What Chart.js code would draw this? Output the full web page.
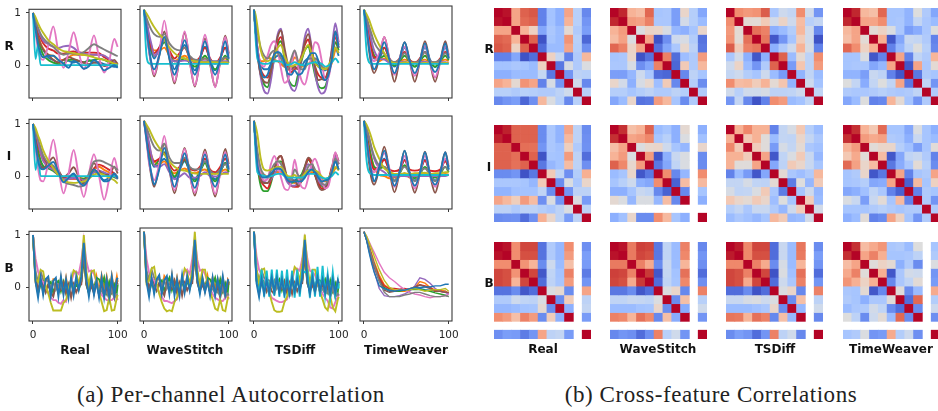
<!DOCTYPE html>
<html>
<head>
<meta charset="utf-8">
<script src="https://cdn.jsdelivr.net/npm/chart.js@4/dist/chart.umd.min.js"></script>
<style>
html, body { margin: 0; padding: 0; background: #fff; width: 938px; height: 411px; overflow: hidden; }
canvas { position: absolute; }
.lab { position: absolute; transform: translate(-50%, -50%); font-family: "DejaVu Sans"; font-weight: bold; font-size: 12px; color: #111; white-space: nowrap; }
.cap { position: absolute; transform: translate(-50%, -50%); font-family: "Liberation Serif"; font-size: 23px; letter-spacing: 0.55px; color: #222; white-space: nowrap; }
</style>
</head>
<body>
<script>
// ------------ axes and names -----------------------

const rowNames = ["R", "I", "B"];
const methodNames = ["Real", "WaveStitch", "TSDiff", "TimeWeaver"];
const lagTicks = [0, 100];
const corrTicks = [0, 1];
const lags = [0,3,6,9,12,18,24,30,36,42,48,54,60,66,72,78,84,90,96,100];
const lagsFine = [0,2,4,8,12,16,20,24,28,32,36,40,44,48,52,56,60,64,68,72,76,80,84,88,92,96,100];
const lagsB = [0,3,6,9,12,15,18,21,24,27,30,33,36,39,42,45,48,51,54,57,60,63,66,69,72,75,78,81,84,87,90,93,96,99,100];
const lineColors = ["#1f77b4","#ff7f0e","#2ca02c","#d62728","#9467bd","#8c564b","#e377c2","#7f7f7f","#bcbd22","#17becf","#1f77b4"];

// ------------ autocorrelation, row R -----------------

const acfRReal = [
[1,.75,.55,.4,.3,.15,.1,.05,.1,.08,.05,.08,.05,.1,.05,.05,.02,0,-.03,-.03],
[1,.78,.58,.42,.32,.2,.18,.1,.1,.15,.2,.2,.2,.2,.2,.2,.18,.1,.05,0],
[1,.72,.48,.32,.2,.1,.05,.02,.03,.1,.1,.08,.05,.08,.1,.12,.1,.05,.02,-.02],
[1,.82,.65,.52,.42,.32,.28,.22,.22,.25,.26,.24,.24,.24,.24,.23,.15,.1,.05,0],
[1,.85,.68,.56,.47,.4,.35,.33,.36,.37,.33,.25,.22,.2,.2,.2,.18,.12,.07,.02],
[1,.76,.55,.4,.3,.2,.1,.05,.1,.15,.12,.08,.05,.02,.05,.05,-.02,.02,.1,.02],
[1,.62,.3,.13,.1,.38,.74,.25,-.05,.25,.63,.25,-.08,.2,.57,.15,-.14,.08,.5,.35],
[1,.85,.72,.6,.52,.42,.35,.25,.2,.22,.22,.2,.25,.33,.4,.35,.3,.25,.2,.17],
[1,.92,.8,.7,.62,.48,.4,.32,.27,.25,.23,.21,.2,.18,.15,.12,.1,.07,.03,.01],
[1,.12,.38,0,0,0,0,0,0,0,0,0,0,0,0,0,0,0,0,0],
[1,.68,.4,.22,.15,.18,.18,.1,.03,-.05,.08,.03,-.07,-.02,.1,.02,-.1,-.05,0,-.05]];
const acfRWave = [
[1,.7,.4,.2,.1,.3,.45,.2,-.1,.15,.35,.1,-.12,.1,.32,.08,-.12,.1,.3,.08],
[1,.75,.5,.32,.25,.25,.3,.15,.05,.1,.15,.08,.03,.07,.1,.05,.02,.05,.1,.05],
[1,.72,.45,.25,.15,.25,.4,.18,.05,.05,.1,.02,-.05,.03,.15,0,-.1,0,.15,.02],
[1,.75,.48,.28,.2,.3,.45,.25,.1,.2,.3,.12,.05,.12,.3,.1,0,.12,.3,.18],
[1,.8,.55,.35,.15,.25,.45,.15,.05,.05,.06,.05,.05,.05,.05,.05,.05,.05,.05,.05],
[1,.62,.25,-.05,-.23,.15,.6,.1,-.36,.1,.57,.05,-.42,.05,.47,0,-.42,.05,.52,.2],
[1,.6,.22,0,-.2,.2,.8,.2,-.33,.1,.6,.05,-.4,.05,.54,.05,-.43,.05,.5,.15],
[1,.85,.72,.62,.55,.5,.55,.38,.28,.25,.3,.15,.08,.07,.1,.05,.04,.05,.12,.1],
[1,.93,.85,.76,.68,.55,.45,.3,.2,.13,.1,.07,.05,.04,.03,.03,.03,.02,.03,.02],
[1,.15,.01,0,0,0,0,0,0,0,0,0,0,0,0,0,0,0,0,0],
[1,.65,.28,0,-.1,.15,.5,.1,-.2,.1,.44,.08,-.2,.08,.42,.05,-.2,.08,.42,.1]];
const acfRTSDiff = [
[1,.6,.25,0,-.1,-.1,0,.1,.15,.15,.05,-.05,-.1,-.05,-.1,-.05,.05,.1,.1,.05,-.05,-.1,-.12,-.05,.05,.3,.15],
[1,.6,.3,.05,.05,.12,.1,.08,.05,0,-.05,-.02,0,.12,.05,-.05,-.05,0,.05,.1,.05,-.05,-.08,-.1,.02,.25,.28],
[1,.6,.25,-.2,-.38,-.43,-.2,.1,.35,.42,.1,-.25,-.38,-.41,-.2,.05,.25,.32,.1,-.2,-.4,-.45,-.42,-.2,.1,.4,.25],
[1,.6,.3,-.1,-.22,-.25,-.1,.15,.4,.5,.2,-.05,-.15,-.1,-.05,.15,.35,.45,.2,-.05,-.2,-.25,-.25,-.1,.15,.5,.3],
[1,.6,.25,-.25,-.5,-.55,-.3,.15,.55,.65,.2,-.25,-.45,-.5,-.3,.1,.5,.65,.3,-.15,-.45,-.55,-.5,-.2,.3,.75,.4],
[1,.6,.2,-.2,-.33,-.35,-.15,.2,.5,.62,.3,0,-.1,-.05,-.1,.1,.4,.55,.3,-.05,-.3,-.28,-.3,-.1,.25,.6,.35],
[1,.65,.3,0,-.05,.15,.35,.42,.25,-.1,-.35,-.3,-.05,.25,-.05,-.3,-.38,-.15,.15,.4,.35,.05,-.3,-.25,.1,.55,.4],
[1,.8,.6,.3,.15,.1,.2,.25,.2,.1,-.05,-.1,.1,.25,.05,-.1,-.1,.1,.1,.1,.05,-.05,-.1,-.05,.1,.3,.2],
[1,.9,.7,.25,.08,.05,.08,.15,.3,.35,.15,.02,-.05,-.02,0,.1,.25,.35,.2,.02,-.05,-.08,-.1,-.02,.1,.3,.2],
[1,.45,.1,.02,0,0,.03,.05,.05,.04,0,-.02,0,.03,0,-.02,-.03,0,.02,.03,.02,0,-.05,-.03,.03,.1,.02],
[1,.62,.25,-.12,-.25,-.2,0,.18,.22,.18,.02,-.18,-.2,-.12,-.2,-.18,-.05,.12,.2,.2,.05,-.2,-.3,-.2,.1,.6,.3]];
const acfRWeaver = [
[1,.72,.42,.2,.1,.1,.3,.1,-.05,.08,.3,.08,-.05,.08,.3,.08,-.06,.08,.3,.1],
[1,.8,.55,.3,.15,.05,.1,.05,.03,.05,.08,.05,.03,.05,.08,.03,.02,.05,.08,.05],
[1,.78,.5,.3,.15,.1,.15,.05,-.03,.05,.15,.03,-.05,.05,.15,.02,-.05,.05,.15,.07],
[1,.78,.5,.25,.12,.15,.3,.1,.02,.1,.22,.07,.02,.1,.22,.05,.02,.1,.22,.12],
[1,.85,.65,.42,.25,.1,.08,.03,.03,.03,.04,.02,.02,.03,.04,.02,.02,.03,.03,.02],
[1,.65,.25,-.05,-.17,.1,.5,.08,-.33,.08,.4,.05,-.33,.05,.42,.02,-.33,.05,.42,.15],
[1,.68,.35,.12,.05,.2,.5,.1,-.2,.1,.32,.03,-.22,.05,.33,.02,-.25,.05,.32,.18],
[1,.85,.7,.55,.4,.25,.18,.08,.03,.08,.2,.05,.02,.08,.22,.05,.03,.08,.2,.1],
[1,.92,.82,.68,.55,.35,.2,.05,.02,.01,.03,.02,.01,.01,.02,.01,.01,.01,.02,.01],
[1,.25,.03,0,0,0,0,0,0,0,0,0,0,0,0,0,0,0,0,0],
[1,.68,.3,.02,-.1,.12,.4,.08,-.17,.08,.4,.05,-.17,.05,.38,.02,-.15,.05,.38,.1]];

// ------------ autocorrelation, row I -----------------

const acfIReal = [
[1,.72,.45,.28,.18,.15,.15,.03,-.1,-.05,.03,-.08,-.12,-.03,.1,.02,-.08,-.03,.03,-.03],
[1,.78,.58,.42,.3,.18,.12,.03,-.03,-.03,-.02,-.03,-.05,0,.12,.18,.12,.07,.02,-.05],
[1,.72,.48,.3,.2,.15,.1,.02,-.05,-.03,0,-.04,-.05,0,.08,.1,.05,.02,-.02,-.05],
[1,.8,.6,.45,.35,.22,.15,.05,-.02,-.05,-.05,-.05,-.08,0,.15,.22,.18,.12,.05,-.03],
[1,.85,.65,.45,.3,.18,.12,.02,-.05,-.05,-.03,-.05,-.08,-.02,.07,.1,.07,.03,0,-.05],
[1,.68,.38,.2,.15,.25,.36,.12,-.02,.05,.17,-.02,-.15,.02,.25,.1,.02,.03,.18,.05],
[1,.55,.15,-.08,-.1,.25,.7,.15,-.33,.05,.5,0,-.4,.05,.42,0,-.45,-.05,.35,.1],
[1,.85,.7,.55,.4,.25,.2,.05,-.1,-.15,-.17,-.2,-.18,.05,.28,.3,.27,.22,.17,.12],
[1,.92,.78,.65,.5,.3,.15,.02,-.08,-.12,-.13,-.12,-.1,-.05,.03,.05,.02,-.03,-.08,-.14],
[1,.12,.35,0,0,0,0,0,0,0,0,0,0,0,0,0,0,0,0,0],
[1,.62,.3,.15,.13,.2,.27,.08,-.12,-.03,.05,-.1,-.18,-.05,.13,.03,-.1,-.08,.05,-.05]];
const acfIWave = [
[1,.75,.45,.25,.15,.2,.3,.1,-.05,.1,.25,.08,-.08,.08,.25,.05,-.08,.05,.22,.08],
[1,.78,.55,.35,.25,.2,.25,.1,.03,.08,.12,.05,.03,.07,.1,.03,.03,.05,.1,.05],
[1,.72,.45,.25,.18,.28,.42,.15,-.03,.12,.28,.05,-.12,.05,.22,0,-.12,.05,.22,.05],
[1,.78,.5,.32,.25,.3,.4,.2,.08,.15,.3,.12,.08,.15,.3,.1,.05,.15,.3,.15],
[1,.82,.6,.35,.18,.15,.2,.05,-.08,-.03,.03,-.05,-.05,-.02,.05,-.02,-.03,0,.05,.03],
[1,.68,.25,-.05,-.22,.15,.58,.1,-.34,.1,.5,.03,-.38,.05,.47,0,-.4,.05,.48,.2],
[1,.62,.22,.02,-.1,.2,.72,.12,-.28,.08,.48,0,-.33,.03,.42,0,-.35,.03,.42,.1],
[1,.88,.75,.62,.52,.45,.58,.32,.22,.22,.32,.15,.1,.12,.25,.08,.02,.1,.2,.12],
[1,.93,.85,.75,.65,.5,.38,.25,.15,.1,.08,.05,.03,.02,.02,.02,.02,.02,.02,.02],
null,
[1,.65,.3,0,-.18,.1,.5,.1,-.22,.08,.4,.03,-.24,.05,.38,0,-.22,.05,.38,.1]];
const acfITSDiff = [
[1,.6,.3,.02,-.02,-.05,0,.05,.05,.05,0,-.05,-.08,-.1,-.05,0,.03,.08,.1,.05,0,-.1,-.12,-.05,.05,.25,.1],
[1,.6,.25,.03,0,-.03,.02,.05,.05,.05,0,-.05,-.12,-.15,-.1,-.03,.03,.05,.05,.05,0,-.08,-.12,-.08,0,.12,.15],
[1,.6,.2,-.2,-.3,-.3,-.15,.1,.25,.25,.1,-.1,-.15,-.12,-.1,0,.15,.28,.2,0,-.15,-.2,-.25,-.1,.1,.3,.2],
[1,.6,.25,-.1,-.2,-.25,-.1,.1,.3,.35,.1,-.1,-.2,-.22,-.22,-.1,.1,.3,.2,0,-.15,-.25,-.25,-.1,.15,.25,.2],
[1,.6,.25,-.05,-.12,-.15,-.08,.02,.1,.1,-.02,-.15,-.2,-.2,-.15,-.05,.1,.2,.15,.05,-.1,-.18,-.2,-.1,.1,.35,.2],
[1,.6,.22,-.08,-.15,-.15,-.05,.1,.3,.35,.15,-.1,-.12,-.1,-.2,-.1,.15,.32,.25,.02,-.2,-.28,-.25,-.12,.12,.4,.25],
[1,.65,.3,.02,-.1,-.08,.2,.35,.2,-.05,-.25,-.28,-.1,.28,-.02,-.22,-.25,-.05,.2,.3,.15,-.1,-.25,-.2,.1,.42,.2],
[1,.7,.45,.12,0,-.05,.08,.2,.25,.2,.05,-.08,-.1,.1,0,-.08,-.02,.15,.2,.1,-.02,-.15,-.18,-.08,.08,.3,.2],
[1,.9,.75,.3,.1,.08,.1,.12,.15,.15,.05,-.02,-.03,0,-.05,-.05,.03,.08,.08,.08,.05,-.03,-.07,-.05,.03,.15,.08],
[1,.4,.05,0,-.02,-.03,-.02,0,.02,.02,-.02,-.05,-.05,-.05,-.05,-.05,-.02,.02,.02,.02,-.02,-.05,-.07,-.05,-.02,.05,0],
[1,.58,.2,-.02,-.05,-.03,.02,.1,.12,.1,0,-.1,-.13,-.12,-.12,-.12,-.05,.05,.1,.05,-.05,-.12,-.1,-.08,.05,.25,.1]];
const acfIWeaver = [
[1,.72,.4,.2,.1,.15,.3,.08,-.1,.06,.28,.04,-.1,.05,.28,.03,-.1,.05,.28,.1],
[1,.82,.55,.3,.15,0,-.02,-.06,-.05,-.03,.03,-.05,-.03,-.02,.02,-.02,-.03,-.02,.02,0],
[1,.78,.52,.3,.15,.12,.15,.02,-.03,.03,.18,.02,-.06,.02,.15,.02,-.05,.02,.15,.05],
[1,.75,.42,.2,.1,.15,.28,.1,.07,.1,.27,.1,.08,.1,.27,.08,.07,.1,.25,.15],
[1,.88,.7,.48,.3,.12,.05,-.02,-.03,-.02,-.02,-.03,-.02,-.02,-.02,-.02,-.02,-.02,-.02,0],
[1,.65,.22,-.08,-.18,.12,.52,.08,-.32,.05,.45,.02,-.33,.03,.43,0,-.33,.03,.42,.15],
[1,.68,.32,.1,.05,.2,.4,.12,-.22,.05,.35,0,-.25,.03,.35,0,-.22,.03,.3,.2],
[1,.85,.68,.5,.35,.18,.15,.05,-.12,.05,.15,.03,-.12,.05,.12,0,-.12,.05,.15,.08],
[1,.93,.82,.68,.52,.3,.12,.06,.02,.02,.03,.02,.03,.03,.04,.02,.03,.03,.05,.05],
[1,.28,.05,.02,0,0,0,0,0,0,0,0,0,0,0,0,0,0,0,0],
[1,.68,.3,.05,-.12,.15,.45,.08,-.2,.05,.45,.02,-.2,.03,.42,0,-.18,.03,.42,.1]];

// ------------ autocorrelation, row B -----------------

const acfBReal = [null,
[1,.1,-.1,.15,-.1,.12,.18,-.12,.15,.15,-.1,.18,-.1,.18,-.1,.15,-.1,.15,0,.1,.6,.1,-.1,.15,-.1,.2,-.08,.22,-.05,.2,-.1,.22,-.08,.2,.1],
[1,.15,-.12,.05,.12,-.08,.05,.1,-.12,.08,.12,-.08,.1,-.1,.05,.1,-.1,.08,-.05,.1,.55,.05,-.12,.1,-.05,.18,.15,.02,.18,-.1,.1,-.1,.05,-.1,.05],
null,null,
[1,.2,-.05,.1,.05,-.1,.05,-.1,-.18,.05,-.1,-.05,.08,-.12,.05,-.2,.05,-.1,.02,.05,.7,.05,-.1,.02,-.12,.1,-.15,.05,-.18,0,-.25,.02,-.2,.1,.05],
[1,.55,.3,.15,.1,0,-.1,-.2,-.25,-.25,-.3,-.32,-.25,-.28,-.1,.1,.25,.3,.25,.5,.9,.5,.3,.32,.25,.1,-.05,-.15,-.2,-.25,-.25,-.25,-.2,-.2,-.25],
[1,.3,.1,.3,.15,.15,.1,-.02,.1,-.05,.05,0,-.08,.05,-.05,.1,0,.12,.02,.15,.8,.1,-.02,.1,0,.05,-.15,-.05,-.15,-.1,-.2,-.05,-.2,-.15,-.15],
[1,.15,.1,.33,.3,.02,-.12,-.3,-.45,-.45,-.45,-.45,-.3,-.25,-.05,.15,.32,.28,.05,.3,1,.3,.05,.3,.32,.1,-.1,-.28,-.46,-.44,-.2,-.45,-.44,-.2,-.15],
null,
[1,.1,-.2,.18,-.15,.15,.2,-.17,.12,.18,-.18,.2,-.15,.15,-.2,.18,-.15,.2,-.05,.2,.85,.15,-.18,.18,-.15,.12,-.2,.18,-.2,.15,-.18,.2,-.15,.15,.18]];
const acfBWave = [null,
[1,.08,-.1,.12,-.1,.1,.15,-.1,.18,.1,-.1,.2,-.1,.15,-.1,.15,-.08,.18,0,.12,.6,.1,-.08,.15,-.08,.18,-.1,.15,-.05,.12,-.1,.15,-.1,.1,.05],
[1,.12,-.12,.05,.1,-.08,.05,.1,-.1,.05,.15,-.08,.08,-.1,.05,.08,-.08,.1,-.05,.12,.55,.08,-.1,.12,-.05,.15,.12,.02,.15,-.08,.12,-.1,.05,-.1,.08],
null,null,
[1,.18,-.05,.1,.05,-.08,.05,-.08,-.18,.05,-.08,-.05,.1,-.12,.05,-.18,.05,-.08,.02,.05,.7,.05,-.08,.02,-.1,.08,-.12,.05,-.15,0,-.22,.02,-.18,.08,.02],
[1,.5,.25,.15,.1,-.02,-.12,-.2,-.28,-.28,-.3,-.32,-.28,-.25,-.08,.12,.25,.3,.22,.5,.88,.48,.28,.3,.22,.08,-.05,-.15,-.22,-.25,-.28,-.28,-.22,-.2,-.25],
[1,.28,.12,.3,.15,.12,.12,0,.1,-.05,.05,0,-.05,.05,-.05,.08,0,.1,.02,.15,.8,.08,-.02,.08,0,.05,-.12,-.05,-.12,-.1,-.18,-.05,-.2,-.15,-.18],
[1,.05,.1,.32,.35,.05,-.15,-.3,-.42,-.47,-.45,-.47,-.3,-.22,-.02,.12,.32,.25,.02,.3,1,.3,.02,.3,.3,.05,-.1,-.25,-.42,-.45,-.25,-.45,-.47,-.22,-.2],
null,
[1,.08,-.2,.15,-.15,.12,.2,-.15,.1,.18,-.15,.2,-.18,.12,-.18,.2,-.12,.18,-.08,.18,.85,.12,-.15,.15,-.12,.1,-.18,.15,-.18,.12,-.15,.18,-.15,.1,.12]];
const acfBTSDiff = [null,
[1,.1,-.1,.15,-.1,.12,-.1,.15,-.1,.12,-.1,.15,-.12,.12,-.1,.15,-.1,.12,-.05,.12,.6,.1,-.1,.15,-.1,.15,-.1,.12,-.1,.1,-.1,.12,-.08,.1,.05],
[1,.12,-.12,.05,.1,-.08,.05,.1,-.1,.05,.12,-.08,.08,-.1,.05,.08,-.08,.1,-.05,.1,.55,.05,-.1,.1,-.05,.12,.1,.02,.12,-.1,.1,-.1,.05,-.1,.05],
null,null,
[1,.2,-.05,.1,.05,-.1,.05,-.1,-.15,.05,-.1,-.05,.08,-.12,.05,-.15,.05,-.1,.02,.05,.7,.05,-.1,.02,-.12,.08,-.12,.05,-.15,0,-.2,.02,-.2,.08,.05],
[1,.55,.3,.2,.15,0,-.1,-.22,-.25,-.28,-.3,-.3,-.28,-.25,-.08,.1,.3,.32,.28,.5,.85,.5,.28,.25,.2,.08,-.05,-.15,-.22,-.28,-.4,-.42,-.3,-.2,-.15],
[1,.3,.1,.28,.15,.12,.1,0,.1,-.05,.05,0,-.08,.05,-.05,.1,0,.1,.02,.12,.75,.1,-.02,.1,0,.05,-.12,-.05,-.15,-.1,-.2,-.05,-.2,-.15,-.18],
[1,.3,.05,.3,.32,.08,-.12,-.3,-.45,-.48,-.48,-.47,-.3,-.2,-.02,.15,.35,.3,.08,.4,.95,.35,.05,.3,.3,.1,-.12,-.25,-.4,-.45,-.2,-.4,-.47,-.25,-.2],
[1,.1,-.15,.3,-.2,.28,-.2,.3,-.18,.3,-.2,.28,-.22,.3,-.2,.28,-.22,.3,-.2,.28,.25,.28,-.22,.3,-.2,.35,-.2,.37,-.18,.22,-.22,.25,-.18,.1,-.05],
[1,.05,-.2,.12,-.15,.1,-.12,.15,-.1,.15,-.12,.12,-.15,.1,-.15,.15,-.1,.12,-.1,.15,.85,.1,-.15,.15,-.1,.15,-.1,.12,-.12,.15,-.15,.12,-.12,.1,.05]];
const acfBWeaver = [
[1,.87,.7,.52,.38,.1,-.05,-.1,-.1,-.1,-.08,-.07,-.05,-.05,-.07,-.08,-.1,-.1,-.1,-.15],
[1,.88,.75,.6,.45,.2,.02,-.05,-.08,-.1,-.1,-.08,-.03,.08,.05,-.03,-.08,-.08,-.1,-.15],
[1,.85,.7,.55,.4,.15,-.03,-.08,-.1,-.1,-.08,-.07,-.07,-.07,-.08,-.1,-.13,-.15,-.17,-.2],
[1,.88,.72,.55,.4,.15,0,-.05,-.05,-.06,-.05,-.07,-.03,.02,0,-.03,-.1,-.1,-.12,-.12],
[1,.85,.65,.45,.28,-.05,-.18,-.2,-.2,-.18,-.15,-.1,0,.15,.12,.05,-.05,-.1,-.12,-.15],
[1,.85,.68,.5,.35,.1,-.08,-.12,-.1,-.08,-.08,-.05,-.02,.02,-.02,-.05,-.1,-.1,-.12,-.12],
[1,.92,.82,.72,.62,.42,.25,.15,.08,0,-.07,-.12,-.15,-.17,-.2,-.22,-.2,-.2,-.18,-.15],
[1,.88,.72,.55,.4,.08,-.12,-.2,-.2,-.2,-.17,-.15,-.12,-.12,-.15,-.18,-.2,-.2,-.18,-.2],
[1,.92,.8,.68,.55,.3,.1,-.03,-.07,-.08,-.08,-.07,-.05,-.07,-.1,-.08,-.07,-.07,-.05,-.1],
null,
[1,.85,.62,.42,.25,0,-.05,-.08,-.1,-.08,-.08,-.05,-.03,-.03,-.02,-.02,0,0,.03,.03]];

// ------------ cross-feature correlations (lower triangles) ---

const corrRReal = [[1],[.95,1],[.42,.42,1],[.68,.65,.36,1],[.72,.68,.14,.68,1],[-.75,-.75,-.55,-.97,-.85,1],[-.37,-.37,-.33,-.35,-.42,.14,1],[-.5,-.5,-.42,-.42,-.42,-.17,-.8,1],[.42,.36,.06,.48,.42,-.75,-.05,-.65,1],[-.25,-.25,-.3,-.25,-.27,-.3,-.3,-.22,-.1,1],[-.72,-.65,-.6,-.88,-.68,.33,-.02,-.25,-.72,-.25,1]];
const corrRWave = [[1],[.88,1],[.36,.45,1],[.3,.43,-.02,1],[.66,.55,.12,.42,1],[-.35,-.33,.1,-.97,-.82,1],[-.33,-.33,-.05,-.68,-.55,.55,1],[-.6,-.6,-.45,-.12,-.33,-.85,-.88,1],[.1,-.08,-.5,-.05,.08,-.4,.2,-.72,1],[-.27,-.27,-.35,-.28,-.22,-.3,-.3,-.22,-.27,1],[-.55,-.42,.1,-.82,-.8,.45,.33,-.35,-.7,-.3,1]];
const corrRTSDiff = [[1],[.5,1],[.46,.05,1],[.48,.04,.62,1],[.7,.2,.55,.6,1],[-.33,-.08,-.5,-.95,-.5,1],[-.12,.12,-.42,-.65,-.3,.68,1],[-.18,-.12,-.28,-.35,-.12,-.42,-.62,1],[.5,.3,.33,.18,.36,.05,.24,-.47,1],[-.1,-.25,-.1,-.1,-.05,-.22,-.22,-.2,-.12,1],[-.65,-.18,-.72,-.97,-.75,.5,.45,-.42,-.37,-.2,1]];
const corrRWeaver = [[1],[.88,1],[.33,.42,1],[.28,.42,.04,1],[.66,.5,.13,.38,1],[-.35,-.35,-.03,-.95,-.75,1],[-.35,-.33,-.33,-.55,-.45,.42,1],[-.47,-.47,-.6,-.15,-.22,-.75,-.95,1],[0,-.18,-.52,-.18,0,-.2,.42,-.8,1],[-.3,-.33,-.33,-.3,-.25,-.3,-.33,-.3,-.2,1],[-.55,-.42,0,-.75,-.72,.35,.05,-.35,-.65,-.3,1]];
const corrIReal = [[1],[.9,1],[.68,.68,1],[.68,.68,.63,1],[.68,.68,.62,.68,1],[-.7,-.7,-.65,-.97,-.8,1],[-.33,-.33,-.33,-.35,-.45,.2,1],[-.47,-.47,-.38,-.37,-.37,-.2,-.7,1],[.42,.33,.17,.45,.3,-.68,-.03,-.65,1],[-.22,-.22,-.3,-.22,-.22,-.28,-.33,-.22,-.02,1],[-.7,-.68,-.67,-.85,-.68,.38,.1,-.22,-.62,-.22,1]];
const corrIWave = [[1],[.85,1],[.28,.42,1],[.36,.45,-.02,1],[.68,.52,.08,.45,1],[-.42,-.35,.1,-.95,-.8,1],[-.35,-.25,-.12,-.5,-.55,.5,1],[-.5,-.5,-.35,-.15,-.2,-.72,-.9,1],[.06,-.02,-.45,-.03,-.03,-.45,.3,-.72,1],[null,null,null,null,null,null,null,null,null,null],[-.5,-.38,.1,-.7,-.7,.5,.32,-.35,-.5,null,1]];
const corrITSDiff = [[1],[.38,1],[.52,.22,1],[.37,.37,.18,1],[.37,.02,.02,.42,1],[-.75,-.42,-.62,-.95,-.55,1],[-.18,-.18,-.06,-.2,-.22,.05,1],[-.05,-.2,-.18,-.03,.2,-.33,-.78,1],[.22,.1,.05,.2,.1,-.4,0,-.35,1],[-.27,-.18,-.33,-.15,-.15,-.3,-.45,-.12,.18,1],[-.42,-.33,-.38,-.45,-.35,.33,.2,-.45,-.42,-.08,1]];
const corrIWeaver = [[1],[.85,1],[.36,.45,1],[.22,.4,.03,1],[.65,.43,.1,.3,1],[-.35,-.3,.1,-.95,-.8,1],[-.35,-.33,-.27,-.55,-.52,.42,1],[-.55,-.5,-.38,-.2,-.33,-.75,-.9,1],[-.03,-.15,-.6,-.15,.04,-.35,.32,-.75,1],[-.35,-.35,-.35,-.3,-.25,-.3,-.35,-.3,-.3,1],[-.5,-.42,.03,-.75,-.7,.42,.14,-.35,-.65,-.3,1]];
const corrBReal = [[1],[.95,1],[.5,.5,1],[.78,.75,.48,1],[.78,.75,.35,.78,1],[-.82,-.82,-.7,-.95,-.85,1],[-.3,-.3,-.12,-.2,-.22,-.03,1],[-.45,-.45,-.42,-.37,-.35,.06,-.7,1],[.5,.45,.28,.55,.45,-.7,.18,-.5,1],[null,null,null,null,null,null,null,null,null,null],[-.68,-.6,-.62,-.78,-.65,.42,-.22,-.18,-.62,null,1]];
const corrBWave = [[1],[.95,1],[.58,.58,1],[.8,.78,.55,1],[.78,.75,.4,.82,1],[-.8,-.8,-.7,-.95,-.85,1],[-.2,-.2,-.15,-.17,-.2,-.02,1],[-.42,-.42,-.42,-.37,-.35,.1,-.7,1],[.55,.52,.35,.62,.52,-.72,.28,-.52,1],[null,null,null,null,null,null,null,null,null,null],[-.72,-.65,-.68,-.85,-.68,.55,-.25,-.1,-.65,null,1]];
const corrBTSDiff = [[1],[.92,1],[.52,.52,1],[.78,.75,.55,1],[.78,.75,.4,.78,1],[-.85,-.85,-.7,-.97,-.85,1],[-.15,-.15,-.05,-.02,-.12,-.03,1],[-.42,-.42,-.42,-.38,-.33,.1,-.7,1],[.6,.58,.35,.62,.55,-.72,.28,-.45,1],[null,null,null,null,null,null,null,null,null,null],[-.7,-.6,-.65,-.85,-.65,.55,-.22,-.1,-.72,null,1]];
const corrBWeaver = [[1],[.85,1],[.3,.42,1],[.4,.55,.02,1],[.47,.38,.13,.38,1],[-.33,-.35,.05,-.95,-.72,1],[-.3,-.35,-.5,-.33,-.33,.02,1],[-.42,-.33,-.3,-.08,-.2,-.7,-.85,1],[0,-.22,-.7,-.12,.04,-.42,.65,-.7,1],[null,null,null,null,null,null,null,null,null,null],[-.35,-.3,-.02,-.65,-.62,.4,-.28,-.12,-.68,null,1]];

// ------------ coolwarm colour stops -------------------

const coolwarm = [[59,76,192],[77,104,215],[98,130,234],[119,154,247],[141,176,254],[163,194,255],[184,208,249],[204,217,238],[221,221,221],[236,211,197],[245,196,173],[247,177,148],[241,141,111],[229,112,88],[213,80,66],[192,40,47],[180,4,38]];

function coolColor(v) {
  if (v === null || v === undefined) return "rgba(255,255,255,0)";
  var p = ((v + 1) / 2) * (coolwarm.length - 1);
  var i = Math.min(Math.floor(p), coolwarm.length - 2);
  var t = p - i;
  var c = coolwarm[i].map((a, k) => Math.round(a + (coolwarm[i + 1][k] - a) * t));
  return "rgb(" + c.join(",") + ")";
}

// ------------ layout ----------------------------------

const lineX = [29, 140, 250, 360];
const lineY = [6, 116, 228];
const lineH = [92, 93, 93];
const yRange = [[-0.63, 1.07], [-0.63, 1.09], [-0.65, 1.07]];
const heatX = [494, 610, 726, 843];
const heatY = [8, 125, 242];
const heatSize = 97;
const m = { l: 26, r: 14, t: 8, b: 24 };

Chart.defaults.font.family = "DejaVu Sans";
Chart.defaults.animation = false;

const framePlugin = {
  id: "frame",
  afterDraw(chart) {
    var a = chart.chartArea, c = chart.ctx;
    c.save();
    c.strokeStyle = "#3a3a3a";
    c.lineWidth = 1.1;
    c.strokeRect(a.left, a.top, a.right - a.left, a.bottom - a.top);
    c.restore();
  },
};

function addCanvas(x, y, w, h) {
  var cv = document.createElement("canvas");
  cv.width = w;
  cv.height = h;
  cv.style.left = x + "px";
  cv.style.top = y + "px";
  cv.style.width = w + "px";
  cv.style.height = h + "px";
  document.body.appendChild(cv);
  return cv;
}

function addText(cls, text, x, y) {
  var d = document.createElement("div");
  d.className = cls;
  d.textContent = text;
  d.style.left = x + "px";
  d.style.top = y + "px";
  document.body.appendChild(d);
}

// ------------ line panel ------------------------------

function linePanel(series, xs, row, col, straight, width) {
  var cv = addCanvas(lineX[col] - m.l, lineY[row] - m.t, 92 + m.l + m.r, lineH[row] + m.t + m.b);
  var sets = [];
  series.forEach((vals, i) => {
    if (!vals) return;
    sets.push({
      data: vals.map((v, k) => ({ x: xs[k], y: v })),
      borderColor: lineColors[i],
      borderWidth: width || 1.9,
      pointRadius: 0,
      cubicInterpolationMode: straight ? "default" : "monotone",
      tension: 0,
      // later series sit on top, as in the picture
      order: lineColors.length - i,
    });
  });
  new Chart(cv, {
    type: "line",
    data: { datasets: sets },
    plugins: [framePlugin],
    options: {
      responsive: false,
      layout: { padding: { top: m.t, right: m.r, left: 0, bottom: 0 } },
      plugins: { legend: { display: false }, tooltip: { enabled: false } },
      scales: {
        x: {
          type: "linear",
          min: -4.7,
          max: 103.9,
          afterBuildTicks: (s) => { s.ticks = lagTicks.map((v) => ({ value: v })); },
          afterFit: (s) => { s.height = m.b; },
          grid: { drawOnChartArea: false, tickLength: 3, color: "#3a3a3a" },
          border: { display: false },
          ticks: { display: row === 2, font: { size: 10.5 }, color: "#262626", padding: 5, maxRotation: 0, minRotation: 0, autoSkip: false },
        },
        y: {
          min: yRange[row][0],
          max: yRange[row][1],
          afterBuildTicks: (s) => { s.ticks = corrTicks.map((v) => ({ value: v })); },
          afterFit: (s) => { s.width = m.l; },
          grid: { drawOnChartArea: false, tickLength: 3, color: "#3a3a3a" },
          border: { display: false },
          ticks: { display: col === 0, font: { size: 10.5 }, color: "#262626", padding: 5 },
        },
      },
    },
  });
}

// ------------ heatmap panel (stacked bars, one per row) --

function heatPanel(tri, row, col) {
  var n = tri.length;
  var cv = addCanvas(heatX[col], heatY[row], heatSize, heatSize);
  var names = [];
  for (var c = 0; c < n; c++) names.push(c);
  function cell(r, c) {
    var v = r >= c ? tri[r][c] : tri[c][r];
    return v;
  }
  var sets = names.map((r) => ({
    data: names.map(() => 1),
    backgroundColor: names.map((c) => coolColor(cell(r, c))),
    borderWidth: 0,
    categoryPercentage: 1,
    barPercentage: 1,
  }));
  new Chart(cv, {
    type: "bar",
    data: { labels: names, datasets: sets },
    options: {
      responsive: false,
      layout: { padding: 0 },
      plugins: { legend: { display: false }, tooltip: { enabled: false } },
      scales: {
        x: { stacked: true, display: false },
        y: { stacked: true, display: false, min: 0, max: n, reverse: true },
      },
    },
  });
}

// ------------ draw everything -------------------------

linePanel(acfRReal, lags, 0, 0);
linePanel(acfRWave, lags, 0, 1);
linePanel(acfRTSDiff, lagsFine, 0, 2);
linePanel(acfRWeaver, lags, 0, 3);
linePanel(acfIReal, lags, 1, 0);
linePanel(acfIWave, lags, 1, 1);
linePanel(acfITSDiff, lagsFine, 1, 2);
linePanel(acfIWeaver, lags, 1, 3);
linePanel(acfBReal, lagsB, 2, 0, true);
linePanel(acfBWave, lagsB, 2, 1, true);
linePanel(acfBTSDiff, lagsB, 2, 2, true);
linePanel(acfBWeaver, lags, 2, 3, true, 1.4);

heatPanel(corrRReal, 0, 0);
heatPanel(corrRWave, 0, 1);
heatPanel(corrRTSDiff, 0, 2);
heatPanel(corrRWeaver, 0, 3);
heatPanel(corrIReal, 1, 0);
heatPanel(corrIWave, 1, 1);
heatPanel(corrITSDiff, 1, 2);
heatPanel(corrIWeaver, 1, 3);
heatPanel(corrBReal, 2, 0);
heatPanel(corrBWave, 2, 1);
heatPanel(corrBTSDiff, 2, 2);
heatPanel(corrBWeaver, 2, 3);

// ------------ labels ----------------------------------

[46, 156, 268].forEach((y, i) => addText("lab", rowNames[i], 9, y));
[49, 167, 283].forEach((y, i) => addText("lab", rowNames[i], 489, y));
[75, 185, 295, 406].forEach((x, i) => addText("lab", methodNames[i], x, 350));
[543, 658, 775, 891].forEach((x, i) => addText("lab", methodNames[i], x, 349));
addText("cap", "(a) Per-channel Autocorrelation", 231, 395);
addText("cap", "(b) Cross-feature Correlations", 711, 395);
</script>
</body>
</html>
